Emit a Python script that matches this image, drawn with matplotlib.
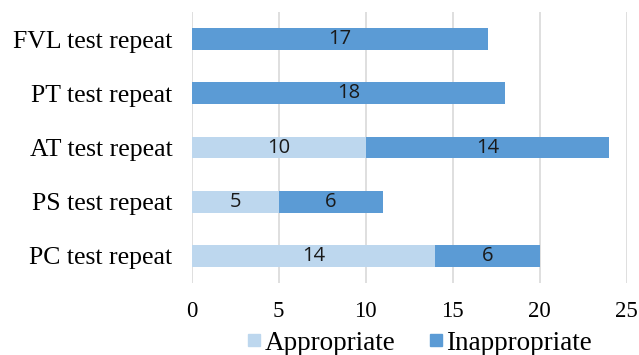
import matplotlib.pyplot as plt
from matplotlib.lines import Line2D

# Test repeat counts by category
tests = ['FVL test repeat', 'PT test repeat', 'AT test repeat', 'PS test repeat', 'PC test repeat']
appropriate = [0, 0, 10, 5, 14]
inappropriate = [17, 18, 14, 6, 6]
series = ['Appropriate', 'Inappropriate']

light = '#BDD7EE'
dark = '#5B9BD5'

fig = plt.figure(figsize=(6.39, 3.55), dpi=100)
ax = fig.add_axes([0.300, 0.203, 0.681, 0.763])

y = list(range(len(tests)))[::-1]
b1 = ax.barh(y, appropriate, height=0.4, color=light)
b2 = ax.barh(y, inappropriate, left=appropriate, height=0.4, color=dark)

# value labels inside the segments (skip empty ones)
for bars, vals in ((b1, appropriate), (b2, inappropriate)):
    labels = [str(v) if v else '' for v in vals]
    ax.bar_label(bars, labels=labels, label_type='center', fontsize=14.5,
                 family='Open Sans', color='#1a1a1a')

ax.set_xlim(0, 25)
ax.set_ylim(-0.5, 4.5)
ax.set_xticks([0, 5, 10, 15, 20, 25])
ax.set_yticks(y)
ax.set_yticklabels(tests, family='Liberation Serif', fontsize=18.5)
for lab in ax.get_xticklabels():
    lab.set_family('Liberation Serif')
    lab.set_fontsize(16.5)

ax.grid(axis='x', color='#D9D9D9', linewidth=1.2)
ax.set_axisbelow(True)
for s in ax.spines.values():
    s.set_visible(False)
ax.tick_params(length=0)
ax.tick_params(axis='x', pad=13)
ax.tick_params(axis='y', pad=14)

# square legend markers
handles = [Line2D([], [], linestyle='', marker='s', markersize=8, color=c) for c in (light, dark)]
ax.legend(handles, series, loc='center', bbox_to_anchor=(0.525, -0.222), ncol=2, frameon=False,
          prop={'family': 'Liberation Serif', 'size': 19.5}, handlelength=0.45,
          handletextpad=0.15, columnspacing=1.3)

fig.savefig('out.png', dpi=100)
